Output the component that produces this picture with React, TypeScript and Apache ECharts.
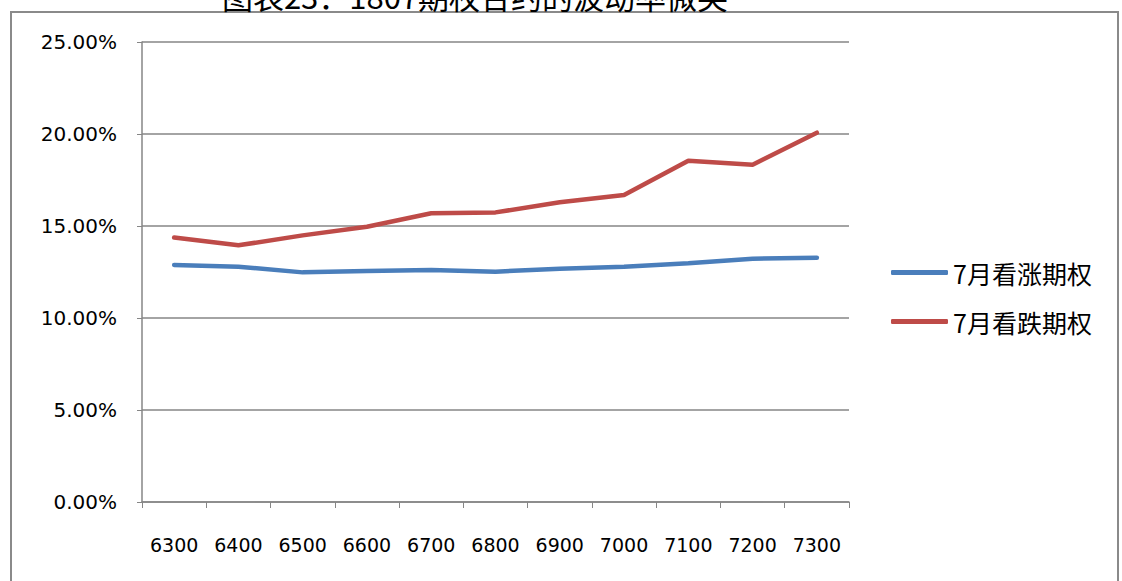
import React, { useEffect, useRef } from "react";
import * as echarts from "echarts";

const categories = ["6300", "6400", "6500", "6600", "6700", "6800", "6900", "7000", "7100", "7200", "7300"];
const callVol = [0.1288, 0.1279, 0.1248, 0.1255, 0.1261, 0.1252, 0.1268, 0.1278, 0.1298, 0.1322, 0.1328];
const putVol = [0.1437, 0.1395, 0.1449, 0.1496, 0.1569, 0.1574, 0.1629, 0.1668, 0.1855, 0.1833, 0.2007];
const seriesNames = ["7月看涨期权", "7月看跌期权"];
const titleText = "图表23：1807期权合约的波动率微笑";

export default function App() {
  const ref = useRef<HTMLDivElement>(null);
  useEffect(() => {
    if (!ref.current) return;
    const chart = echarts.init(ref.current, null, { renderer: "svg" });
    const axisColor = "#868686";
    chart.setOption({
      animation: false,
      backgroundColor: "#ffffff",
      graphic: [
        {
          type: "rect",
          shape: { x: 11, y: 12, width: 1107, height: 600 },
          style: { fill: "none", stroke: "#8a8a8a", lineWidth: 2 },
          silent: true,
        },
        {
          type: "text",
          x: 475,
          y: 11,
          style: {
            text: titleText,
            fill: "#000",
            font: '31px "Noto Sans CJK SC"',
            textAlign: "center",
            textVerticalAlign: "bottom",
          },
        },
      ],
      grid: { left: 142, right: 273, top: 42, bottom: 79, containLabel: false },
      legend: {
        orient: "vertical",
        left: 886,
        top: 255,
        itemWidth: 57,
        itemHeight: 5,
        itemGap: 24,
        icon: "roundRect",
        textStyle: { fontFamily: '"Noto Sans CJK SC"', fontSize: 25, color: "#000" },
        data: seriesNames,
      },
      xAxis: {
        type: "category",
        data: categories,
        boundaryGap: true,
        axisLine: { lineStyle: { color: axisColor, width: 1.5 } },
        axisTick: { show: true, interval: 0, length: 6, lineStyle: { color: axisColor } },
        axisLabel: { interval: 0, margin: 33, color: "#000", fontFamily: "DejaVu Sans", fontSize: 19 },
        splitLine: { show: false },
      },
      yAxis: {
        type: "value",
        min: 0,
        max: 0.25,
        interval: 0.05,
        axisLine: { show: true, lineStyle: { color: axisColor, width: 1.5 } },
        axisTick: { show: true, length: 5, lineStyle: { color: axisColor } },
        axisLabel: {
          margin: 25,
          color: "#000",
          fontFamily: "DejaVu Sans",
          fontSize: 20,
          formatter: (v: number) => (v * 100).toFixed(2) + "%",
        },
        splitLine: { show: true, lineStyle: { color: axisColor, width: 1.5 } },
      },
      series: [
        {
          name: seriesNames[0],
          type: "line",
          data: callVol,
          symbol: "none",
          lineStyle: { color: "#4A7EBB", width: 4.5, cap: "round" },
          itemStyle: { color: "#4A7EBB" },
        },
        {
          name: seriesNames[1],
          type: "line",
          data: putVol,
          symbol: "none",
          lineStyle: { color: "#BE4B48", width: 4.5, cap: "round" },
          itemStyle: { color: "#BE4B48" },
        },
      ],
    });
    return () => chart.dispose();
  }, []);
  return (
    <div
      ref={ref}
      style={{ position: "fixed", left: 0, top: 0, width: 1122, height: 581, background: "#fff" }}
    />
  );
}
